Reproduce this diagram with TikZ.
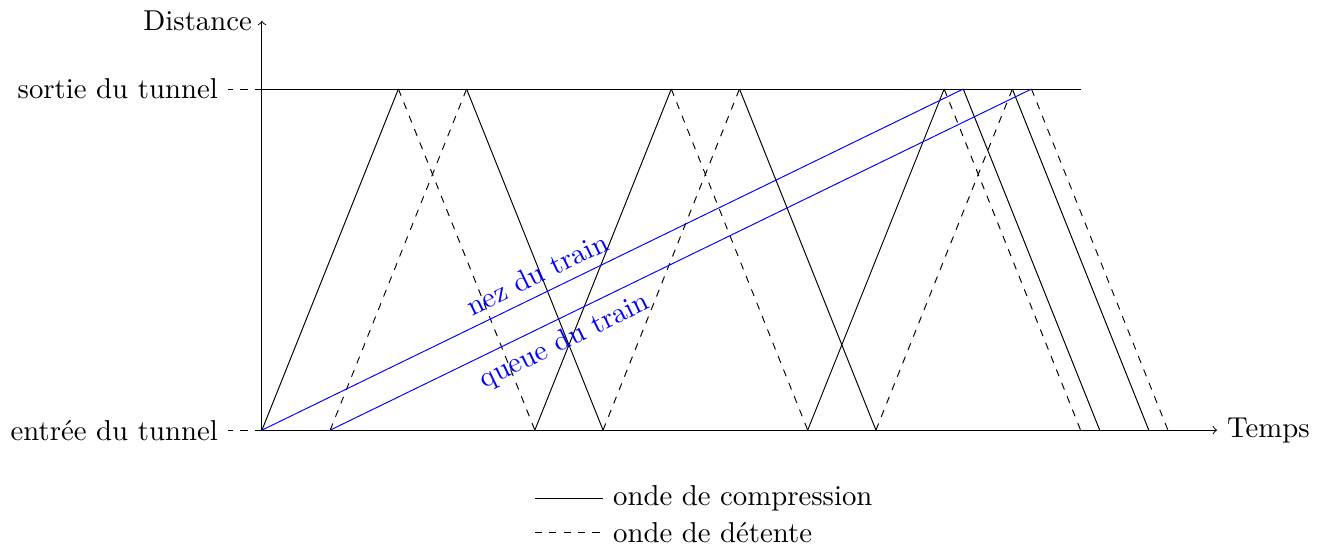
\documentclass[tikz,border=0pt,12pt]{standalone}
\usepackage{fontspec}
\setmainfont{lmroman10-regular.otf}[BoldFont=lmroman10-bold.otf,ItalicFont=lmroman10-italic.otf]
\usetikzlibrary{arrows}
\begin{document}
\begin{tikzpicture}[
  comp/.style={draw=black},
  detente/.style={draw=black,dashed},
  train/.style={draw=blue},
  trainlabel/.style={text=blue,sloped},
  tick/.style={dashed}
]
\useasboundingbox (-3.84,-1.686) rectangle (15.70,6.305);
% axes
\coordinate (O) at (0,0);
\coordinate (Xend) at (14,0);
\coordinate (Yend) at (0,6);
\coordinate (T0) at (0,5);
\coordinate (T1) at (12,5);
\coordinate (E0) at (-0.5,0);
\coordinate (S0) at (-0.5,5);
\draw[->] (O) -- (Xend) node[right] (temps) {Temps};
\draw[->] (O) -- (Yend) node[left] (dist) {Distance};
\draw (T0) -- (T1);
\draw[tick] (O) -- (E0) node[left] (entree) {entrée du tunnel};
\draw[tick] (T0) -- (S0) node[left] (sortie) {sortie du tunnel};
% wave points
\foreach \n/\x in {b0/0,b1/1,b4/4,b5/5,b8/8,b9/9,b12/12,b122/12.28,b13/13,b132/13.28}
  \coordinate (\n) at (\x,0);
\foreach \n/\x in {t2/2,t3/3,t6/6,t7/7,t10/10,t102/10.28,t11/11,t112/11.28}
  \coordinate (\n) at (\x,5);
% compression waves
\draw[comp] (b0) -- (t2);
\draw[comp] (t3) -- (b5);
\draw[comp] (b4) -- (t6);
\draw[comp] (t7) -- (b9);
\draw[comp] (b8) -- (t10);
\draw[comp] (t102) -- (b122);
\draw[comp] (t11) -- (b13);
% expansion waves
\draw[detente] (b1) -- (t3);
\draw[detente] (t2) -- (b4);
\draw[detente] (b5) -- (t7);
\draw[detente] (t6) -- (b8);
\draw[detente] (b9) -- (t11);
\draw[detente] (t10) -- (b12);
\draw[detente] (t112) -- (b132);
% train
\draw[train] (b0) -- node[trainlabel,pos=0.405,above] (nez) {nez du train} (t102);
\draw[train] (b1) -- node[trainlabel,pos=0.32,below] (queue) {queue du train} (t112);
% legend
\coordinate (L1a) at (4,-1);
\coordinate (L1b) at (5,-1);
\coordinate (L2a) at (4,-1.5);
\coordinate (L2b) at (5,-1.5);
\draw[comp] (L1a) -- (L1b) node[right] (leg1) {onde de compression};
\draw[detente] (L2a) -- (L2b) node[right] (leg2) {onde de détente};
\end{tikzpicture}
\end{document}
